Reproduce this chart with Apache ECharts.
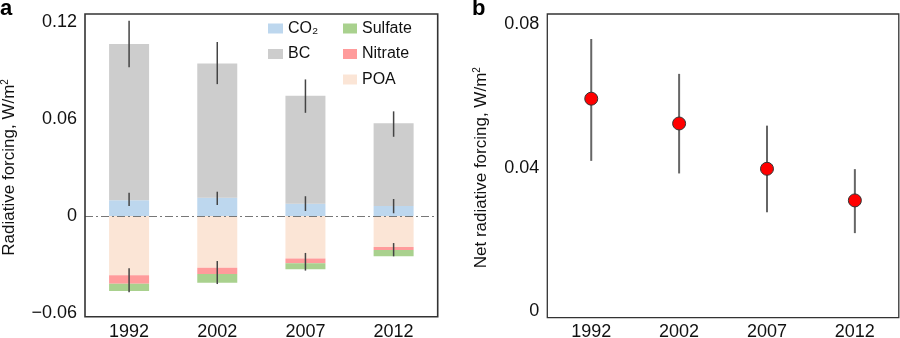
<!DOCTYPE html>
<html>
<head>
<meta charset="utf-8">
<script src="https://cdn.jsdelivr.net/npm/echarts@6/dist/echarts.min.js"></script>
<style>html,body{margin:0;padding:0;background:#fff}#c{width:900px;height:338px}</style>
</head>
<body>
<div id="c"></div>
<script>
// ---- Data (panel a: radiative forcing components) ----
const years = ['1992', '2002', '2007', '2012'];
const co2 = [0.0097, 0.0113, 0.0076, 0.0062];
const bc = [0.0964, 0.0829, 0.0666, 0.0510];
const poa = [-0.0366, -0.0319, -0.0263, -0.0191];
const nitrate = [-0.0052, -0.0039, -0.0029, -0.0019];
const sulfate = [-0.0045, -0.0054, -0.0037, -0.0039];
const bcErrLow = [0.0918, 0.0814, 0.0637, 0.0489];
const bcErrHigh = [0.1205, 0.1074, 0.0843, 0.0646];
const co2ErrLow = [0.0062, 0.0068, 0.0031, 0.0017];
const co2ErrHigh = [0.0144, 0.0150, 0.0122, 0.0105];
const negErrLow = [-0.0471, -0.0420, -0.0337, -0.0249];
const negErrHigh = [-0.0323, -0.0278, -0.0228, -0.0167];
const yTicksA = [-0.06, 0, 0.06, 0.12];
// ---- Data (panel b: net radiative forcing) ----
const net = [0.0592, 0.0523, 0.0397, 0.0309];
const netLow = [0.0419, 0.0384, 0.0276, 0.0218];
const netHigh = [0.0758, 0.0661, 0.0517, 0.0396];
const yTicksB = [0, 0.04, 0.08];

const FONT = 'Liberation Sans';
const colors = {CO2: '#bdd7ee', BC: '#cdcdcd', Sulfate: '#a9d18e', Nitrate: '#ff9b9b', POA: '#fbe5d6'};

function errSeries(low, high, xi, yi, color, width, z) {
  return {
    type: 'custom', xAxisIndex: xi, yAxisIndex: yi, z: z, silent: true,
    encode: {x: 0, y: [1, 2]},
    data: years.map((y, i) => [i, low[i], high[i]]),
    renderItem: function (params, api) {
      const x = api.value(0);
      const p1 = api.coord([x, api.value(1)]);
      const p2 = api.coord([x, api.value(2)]);
      return {type: 'line', shape: {x1: p1[0], y1: p1[1], x2: p2[0], y2: p2[1]},
        style: {stroke: color, lineWidth: width}};
    }
  };
}

function fmtTick(v) { return v === 0 ? '0' : (v < 0 ? '\u2212' + Math.abs(v).toFixed(2) : v.toFixed(2)); }

const chart = echarts.init(document.getElementById('c'), null, {renderer: 'canvas'});
const barBase = {type: 'bar', stack: 'rf', xAxisIndex: 0, yAxisIndex: 0, barWidth: 40, z: 2};
const TICK_FS = 18;

const option = {
  animation: false,
  textStyle: {fontFamily: FONT},
  grid: [
    {left: 85, top: 21.6, width: 352.7, height: 291.6, containLabel: false, outerBoundsMode: 'none'},
    {left: 547.3, top: 23.9, width: 351.5, height: 287.6, containLabel: false, outerBoundsMode: 'none'}
  ],
  xAxis: [
    {type: 'category', gridIndex: 0, data: years, axisLine: {show: false}, axisTick: {show: false},
      axisLabel: {margin: 10, fontSize: TICK_FS, color: '#111', fontFamily: FONT}},
    {type: 'category', gridIndex: 1, data: years, axisLine: {show: false}, axisTick: {show: false},
      axisLabel: {margin: 12, fontSize: TICK_FS, color: '#111', fontFamily: FONT}}
  ],
  yAxis: [
    {type: 'value', gridIndex: 0, min: yTicksA[0], max: yTicksA[yTicksA.length - 1], interval: 0.06,
      axisLine: {show: false}, axisTick: {show: false}, splitLine: {show: false},
      axisLabel: {margin: 8, fontSize: TICK_FS, color: '#111', fontFamily: FONT, formatter: fmtTick},
      name: 'Radiative forcing, W/m{sup|2}', nameLocation: 'middle', nameGap: 66,
      nameTextStyle: {fontSize: 17, color: '#111', fontFamily: FONT,
        rich: {sup: {fontSize: 10, verticalAlign: 'top', padding: [0, 0, 9, 0], fontFamily: FONT, color: '#111'}}}},
    {type: 'value', gridIndex: 1, min: yTicksB[0], max: yTicksB[yTicksB.length - 1], interval: 0.04,
      axisLine: {show: false}, axisTick: {show: false}, splitLine: {show: false},
      axisLabel: {margin: 8, fontSize: TICK_FS, color: '#111', fontFamily: FONT, formatter: fmtTick},
      name: 'Net radiative forcing, W/m{sup|2}', nameLocation: 'middle', nameGap: 56,
      nameTextStyle: {fontSize: 17, color: '#111', fontFamily: FONT,
        rich: {sup: {fontSize: 10, verticalAlign: 'top', padding: [0, 0, 9, 0], fontFamily: FONT, color: '#111'}}}}
  ],
  legend: [
    {data: ['CO2', 'BC'], orient: 'vertical', left: 268, top: 20.5, padding: 0, itemWidth: 15, itemHeight: 10, itemGap: 9.5,
      icon: 'rect', selectedMode: false,
      formatter: n => n === 'CO2' ? 'CO\u2082' : n,
      textStyle: {fontSize: 16, lineHeight: 15, color: '#111', fontFamily: FONT}},
    {data: ['Sulfate', 'Nitrate', 'POA'], orient: 'vertical', left: 343, top: 20.5, padding: 0, itemWidth: 14, itemHeight: 10, itemGap: 9.5,
      icon: 'rect', selectedMode: false,
      textStyle: {fontSize: 16, lineHeight: 15, color: '#111', fontFamily: FONT}}
  ],
  graphic: [
    {type: 'rect', shape: {x: 85, y: 14, width: 352.7, height: 302.7}, style: {fill: 'none', stroke: '#333', lineWidth: 1.6}, z: 50},
    {type: 'rect', shape: {x: 547.3, y: 14, width: 351.5, height: 303.7}, style: {fill: 'none', stroke: '#333', lineWidth: 1.3}, z: 50},
    {type: 'text', x: 0, y: 9, style: {text: 'a', font: 'bold 22px "Liberation Sans"', fill: '#000', textVerticalAlign: 'middle'}},
    {type: 'text', x: 472, y: 9, style: {text: 'b', font: 'bold 22px "Liberation Sans"', fill: '#000', textVerticalAlign: 'middle'}}
  ],
  series: [
    Object.assign({}, barBase, {name: 'CO2', data: co2, itemStyle: {color: colors.CO2},
      markLine: {silent: true, symbol: 'none', label: {show: false},
        lineStyle: {color: '#777', width: 1, type: [8, 3, 2, 3]}, data: [{yAxis: 0}]}}),
    Object.assign({}, barBase, {name: 'BC', data: bc, itemStyle: {color: colors.BC}}),
    Object.assign({}, barBase, {name: 'POA', data: poa, itemStyle: {color: colors.POA}}),
    Object.assign({}, barBase, {name: 'Nitrate', data: nitrate, itemStyle: {color: colors.Nitrate}}),
    Object.assign({}, barBase, {name: 'Sulfate', data: sulfate, itemStyle: {color: colors.Sulfate}}),
    errSeries(bcErrLow, bcErrHigh, 0, 0, '#444', 1.5, 10),
    errSeries(co2ErrLow, co2ErrHigh, 0, 0, '#444', 1.5, 10),
    errSeries(negErrLow, negErrHigh, 0, 0, '#444', 1.5, 10),
    errSeries(netLow, netHigh, 1, 1, '#666', 2, 5),
    {type: 'scatter', name: 'Net', xAxisIndex: 1, yAxisIndex: 1, data: net, symbol: 'circle', symbolSize: 13, z: 10,
      itemStyle: {color: '#ff0000', borderColor: '#333', borderWidth: 1, opacity: 1}}
  ]
};
chart.setOption(option);
</script>
</body>
</html>
